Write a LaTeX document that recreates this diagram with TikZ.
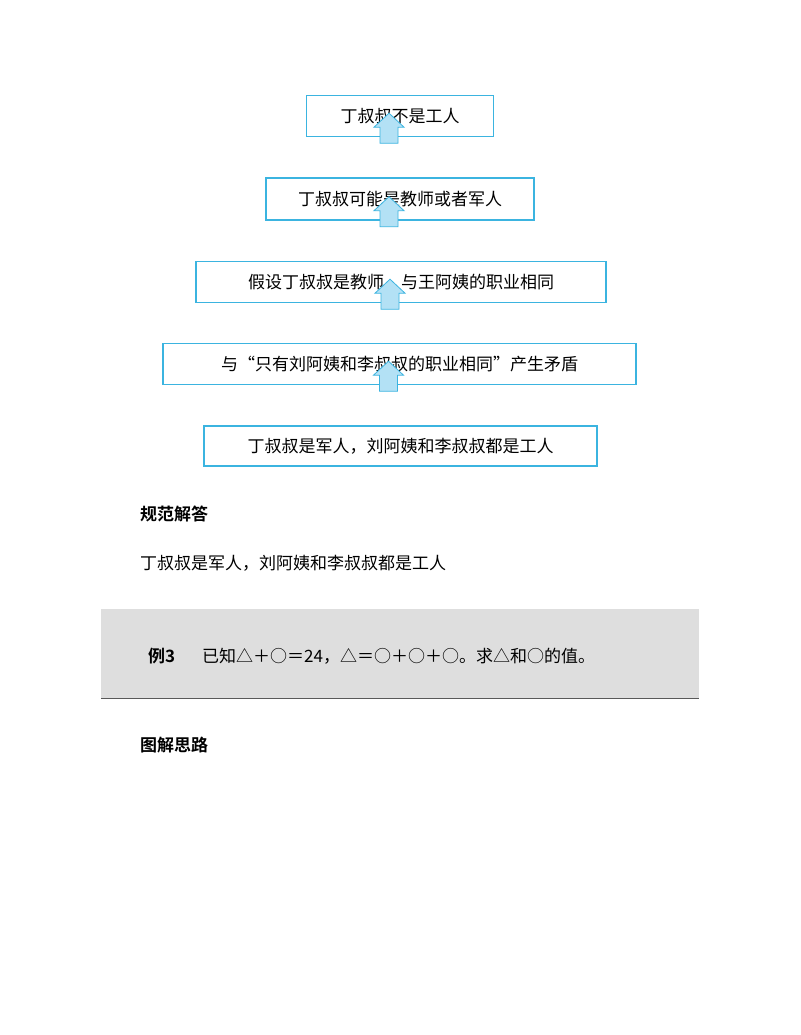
\documentclass[tikz,border=0pt]{standalone}
\usepackage{fontspec}
\setmainfont{Noto Sans CJK SC}
\newfontfamily\cjkb{Noto Sans CJK SC Bold}
\definecolor{boxblue}{HTML}{3BB4E0}
\definecolor{arrfill}{HTML}{B3E1F5}
\definecolor{greybg}{HTML}{DEDEDE}
\begin{document}
\begin{tikzpicture}[x=1pt,y=-1pt,
  flowbox/.style={draw=boxblue,line width=1.4pt,fill=white,inner sep=0pt,font=\fontsize{17}{20}\selectfont},
  txt/.style={anchor=west,inner sep=0pt,font=\fontsize{17}{20}\selectfont},
  head/.style={anchor=west,inner sep=0pt,font=\cjkb\fontsize{17}{20}\selectfont}]
\useasboundingbox (0,0) rectangle (800,1035);
\fill[white] (0,0) rectangle (800,1035);
\node[flowbox,minimum width=187pt,minimum height=41pt] (b1) at (400,116) {丁叔叔不是工人};
\node[flowbox,minimum width=268pt,minimum height=42pt] (b2) at (400,199) {丁叔叔可能是教师或者军人};
\node[flowbox,minimum width=410pt,minimum height=41pt] (b3) at (401,282) {假设丁叔叔是教师，与王阿姨的职业相同};
\node[flowbox,minimum width=473pt,minimum height=41pt] (b4) at (399.5,364) {与“只有刘阿姨和李叔叔的职业相同”产生矛盾};
\node[flowbox,minimum width=393pt,minimum height=40pt] (b5) at (400.5,446) {丁叔叔是军人，刘阿姨和李叔叔都是工人};
\foreach \a/\b in {b1/b2,b2/b3,b3/b4,b4/b5}{
  \coordinate (t) at ([xshift=-11pt,yshift=-6pt]\a.south);
  \draw[boxblue,fill=arrfill,line width=0.8pt]
    ([xshift=-9pt]t) -- ([xshift=9pt]t) -- ([xshift=9pt,yshift=16pt]t) -- ([xshift=15pt,yshift=16pt]t)
    -- ([yshift=30pt]t) -- ([xshift=-15pt,yshift=16pt]t) -- ([xshift=-9pt,yshift=16pt]t) -- cycle;
}
\node[head] (h1) at (140,514) {规范解答};
\node[txt] (ans) at (140,563) {丁叔叔是军人，刘阿姨和李叔叔都是工人};
\fill[greybg] (101,609) rectangle (699,698);
\draw[gray!70!black,line width=1pt] (101,698) -- (699,698);
\node[head] (ex) at (148,656) {例3};
\node[txt] (q) at (202,656) {已知△＋○＝24，△＝○＋○＋○。求△和○的值。};
\node[head] (h2) at (140,745) {图解思路};
\end{tikzpicture}
\end{document}
